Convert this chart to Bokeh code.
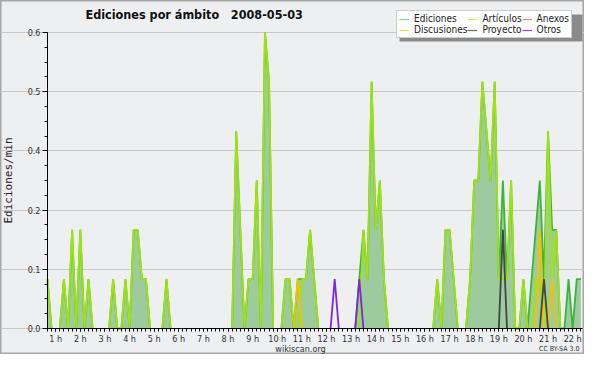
from bokeh.plotting import figure
from bokeh.models import FixedTicker, Label, Legend, LegendItem, Range1d, BoxAnnotation, ColumnDataSource
from bokeh.embed import file_html
from bokeh.resources import INLINE

# ---------------- data (edits per minute, 10-minute bins starting 0:40) ----------------
START_H = 40 / 60
STEP_H = 10 / 60
END_H = 22.4

ediciones = [
    0.1, 0, 0, 0, 0.1, 0, 0.2, 0, 0.2, 0, 0.1, 0,
    0, 0, 0, 0, 0.1, 0, 0, 0.1, 0, 0.2, 0.2, 0.1,
    0.1, 0, 0, 0, 0, 0.1, 0, 0, 0, 0, 0, 0,
    0, 0, 0, 0, 0, 0, 0, 0, 0, 0, 0.4, 0.2,
    0, 0.1, 0.1, 0.3, 0, 0.6, 0.5, 0, 0, 0, 0.1, 0.1,
    0, 0.1, 0.1, 0.1, 0.2, 0.1, 0, 0, 0, 0, 0, 0,
    0, 0, 0, 0, 0.1, 0.2, 0.1, 0.5, 0.2, 0.3, 0.1, 0,
    0, 0, 0, 0, 0, 0, 0, 0, 0, 0, 0, 0.1,
    0, 0.2, 0.2, 0.1, 0, 0, 0, 0.1, 0.3, 0.3, 0.5, 0.4,
    0.3, 0.5, 0.1, 0.3, 0.1, 0.3, 0, 0, 0.1, 0, 0.1, 0.2,
    0.3, 0.1, 0.4, 0.2, 0.2, 0, 0, 0.1, 0, 0.1, 0.1,
]
articulos = [
    0.1, 0, 0, 0, 0.1, 0, 0.2, 0, 0.2, 0, 0.1, 0,
    0, 0, 0, 0, 0.1, 0, 0, 0.1, 0, 0.2, 0.2, 0.1,
    0.1, 0, 0, 0, 0, 0.1, 0, 0, 0, 0, 0, 0,
    0, 0, 0, 0, 0, 0, 0, 0, 0, 0, 0.4, 0.2,
    0, 0.1, 0.1, 0.3, 0, 0.6, 0.5, 0, 0, 0, 0.1, 0.1,
    0, 0, 0.1, 0.1, 0.2, 0.1, 0, 0, 0, 0, 0, 0,
    0, 0, 0, 0, 0, 0.2, 0.1, 0.5, 0.2, 0.3, 0.1, 0,
    0, 0, 0, 0, 0, 0, 0, 0, 0, 0, 0, 0.1,
    0, 0.2, 0.2, 0.1, 0, 0, 0, 0.1, 0.3, 0.3, 0.5, 0.4,
    0.3, 0.5, 0.1, 0.1, 0.1, 0.3, 0, 0, 0.1, 0, 0, 0.1,
    0.1, 0, 0.4, 0.1, 0.2, 0, 0, 0, 0, 0, 0,
]
anexos = [0] * 131
discusiones = [
    0, 0, 0, 0, 0, 0, 0, 0, 0, 0, 0, 0,
    0, 0, 0, 0, 0, 0, 0, 0, 0, 0, 0, 0,
    0, 0, 0, 0, 0, 0, 0, 0, 0, 0, 0, 0,
    0, 0, 0, 0, 0, 0, 0, 0, 0, 0, 0, 0,
    0, 0, 0, 0, 0, 0, 0, 0, 0, 0, 0, 0,
    0, 0.1, 0, 0, 0, 0, 0, 0, 0, 0, 0, 0,
    0, 0, 0, 0, 0, 0, 0, 0, 0, 0, 0, 0,
    0, 0, 0, 0, 0, 0, 0, 0, 0, 0, 0, 0,
    0, 0, 0, 0, 0, 0, 0, 0, 0, 0, 0, 0,
    0, 0, 0, 0, 0, 0, 0, 0, 0, 0, 0, 0,
    0.2, 0, 0, 0.1, 0, 0, 0, 0, 0, 0, 0,
]
proyecto = [
    0, 0, 0, 0, 0, 0, 0, 0, 0, 0, 0, 0,
    0, 0, 0, 0, 0, 0, 0, 0, 0, 0, 0, 0,
    0, 0, 0, 0, 0, 0, 0, 0, 0, 0, 0, 0,
    0, 0, 0, 0, 0, 0, 0, 0, 0, 0, 0, 0,
    0, 0, 0, 0, 0, 0, 0, 0, 0, 0, 0, 0,
    0, 0, 0, 0, 0, 0, 0, 0, 0, 0, 0, 0,
    0, 0, 0, 0, 0, 0, 0, 0, 0, 0, 0, 0,
    0, 0, 0, 0, 0, 0, 0, 0, 0, 0, 0, 0,
    0, 0, 0, 0, 0, 0, 0, 0, 0, 0, 0, 0,
    0, 0, 0, 0.2, 0, 0, 0, 0, 0, 0, 0, 0,
    0, 0.1, 0, 0, 0, 0, 0, 0, 0, 0, 0,
]
otros = [
    0, 0, 0, 0, 0, 0, 0, 0, 0, 0, 0, 0,
    0, 0, 0, 0, 0, 0, 0, 0, 0, 0, 0, 0,
    0, 0, 0, 0, 0, 0, 0, 0, 0, 0, 0, 0,
    0, 0, 0, 0, 0, 0, 0, 0, 0, 0, 0, 0,
    0, 0, 0, 0, 0, 0, 0, 0, 0, 0, 0, 0,
    0, 0, 0, 0, 0, 0, 0, 0, 0, 0, 0.1, 0,
    0, 0, 0, 0, 0.1, 0, 0, 0, 0, 0, 0, 0,
    0, 0, 0, 0, 0, 0, 0, 0, 0, 0, 0, 0,
    0, 0, 0, 0, 0, 0, 0, 0, 0, 0, 0, 0,
    0, 0, 0, 0, 0, 0, 0, 0, 0, 0, 0, 0,
    0, 0, 0, 0, 0, 0, 0, 0, 0, 0, 0,
]

HOURS = list(range(1, 23))
HOUR_LABELS = {h: f"{h} h" for h in HOURS}
Y_TICKS = [0, 0.12, 0.24, 0.36, 0.48, 0.6]
Y_LABELS = ["0.0", "0.1", "0.2", "0.4", "0.5", "0.6"]
Y_MINOR = [0.03 * i for i in range(21)]
Y_MAX = 0.6

TITLE = "Ediciones por ámbito\u00a0\u00a0 2008-05-03"
SERIES = [
    ("Ediciones", ediciones, "#3cb43c"),
    ("Artículos", articulos, "#a2e20e"),
    ("Anexos", anexos, "#f07a3c"),
    ("Discusiones", discusiones, "#f2c200"),
    ("Proyecto", proyecto, "#454545"),
    ("Otros", otros, "#7a28e6"),
]
LEGEND_ORDER = ["Ediciones", "Artículos", "Anexos", "Discusiones", "Proyecto", "Otros"]
LEGEND_COLORS = {"Ediciones": "#86cf86", "Artículos": "#c6ee4a", "Anexos": "#f0845a",
                 "Discusiones": "#f6d24a", "Proyecto": "#6a6a6a", "Otros": "#9048ee"}

n = len(ediciones)
times = [START_H + i * STEP_H for i in range(n)]


def shown(vals):
    out = []
    for i, v in enumerate(vals):
        around = vals[max(i - 1, 0):i + 2]
        out.append(v if any(a > 0 for a in around) else float("nan"))
    return out


# ---------------- layout (pixels) ----------------
W, H = 584, 354
PLOT_L, PLOT_R = 47, 582      # data area left/right
PLOT_T, PLOT_B = 32, 328      # y of 0.6 and of 0.0
sx = (PLOT_R - PLOT_L) / (END_H - START_H)
sy = (PLOT_B - PLOT_T) / Y_MAX
x0 = START_H - PLOT_L / sx
x1 = x0 + W / sx
y1 = Y_MAX + PLOT_T / sy
y0 = -(H - PLOT_B) / sy

FONT = "'DejaVu Sans Condensed', 'DejaVu Sans'"
BG = "#eeeff1"

p = figure(width=W, height=H, x_range=Range1d(x0, x1), y_range=Range1d(y0, y1),
           output_backend="svg", toolbar_location=None,
           min_border=0, min_border_left=0, min_border_right=0, min_border_top=0, min_border_bottom=0)
p.background_fill_color = BG
p.border_fill_color = BG
p.outline_line_color = "#a6a6a6"
p.outline_line_width = 2

# filled total
p.varea(x=times, y1=[0] * n, y2=ediciones, fill_color="#9ecb9e", fill_alpha=1.0)

for name, vals, color in SERIES:
    src = ColumnDataSource(dict(x=times, y=shown(vals)))
    p.line("x", "y", source=src, line_color=color, line_width=1.8)

# legend samples (renderers with no visible points, used only for the legend)
legend_renderers = {nm: p.line(x=[START_H, START_H], y=[float("nan"), float("nan")],
                               line_color=LEGEND_COLORS[nm], line_width=1.2)
                    for nm in LEGEND_ORDER}

# axes drawn at fixed data positions
xa, ya = p.xaxis[0], p.yaxis[0]
xa.fixed_location = 0
ya.fixed_location = START_H
xa.bounds = (START_H, END_H)
ya.bounds = (0, Y_MAX)
xa.ticker = FixedTicker(ticks=HOURS, minor_ticks=times)
xa.major_label_overrides = HOUR_LABELS
ya.ticker = FixedTicker(ticks=Y_TICKS, minor_ticks=Y_MINOR)
ya.major_label_overrides = dict(zip(Y_TICKS, Y_LABELS))
for ax in (xa, ya):
    ax.axis_line_color = "black"
    ax.major_tick_line_color = "black"
    ax.minor_tick_line_color = "black"
    ax.major_tick_in = 0
    ax.minor_tick_in = 0
    ax.major_label_text_font = FONT
    ax.major_label_text_font_size = "9px"
    ax.major_label_text_color = "#333333"
xa.major_tick_out = 3
xa.minor_tick_out = 3
xa.major_label_standoff = 2
ya.major_tick_out = 5
ya.minor_tick_out = 3
ya.major_label_standoff = 2
ya.axis_label = "Ediciones/min"
ya.axis_label_text_font = "DejaVu Sans Mono"
ya.axis_label_text_font_size = "11px"
ya.axis_label_text_font_style = "normal"
ya.axis_label_text_color = "#222222"
ya.axis_label_standoff = 10
p.xgrid.visible = False
p.ygrid.grid_line_color = "#c8c8c8"
p.ygrid.bounds = (START_H, END_H)

# texts (screen units, measured from the bottom-left of the canvas)
p.add_layout(Label(x=85, y=H - 14, x_units="screen", y_units="screen", text=TITLE,
                   text_font=FONT, text_font_size="12.5px", text_font_style="bold",
                   text_baseline="alphabetic", text_color="#111111"))
p.add_layout(Label(x=300, y=H - 348, x_units="screen", y_units="screen", text="wikiscan.org",
                   text_font=FONT, text_font_size="9px", text_align="center",
                   text_baseline="alphabetic", text_color="#333333"))
p.add_layout(Label(x=579, y=H - 348, x_units="screen", y_units="screen", text="CC BY-SA 3.0",
                   text_font=FONT, text_font_size="7px", text_align="right",
                   text_baseline="alphabetic", text_color="#333333"))

# legend with shadow
LEG_L, LEG_B, LEG_W, LEG_H = 396, H - 38, 183, 27
p.add_layout(BoxAnnotation(left=LEG_L + 3, right=LEG_L + LEG_W + 3,
                           bottom=LEG_B - 3, top=LEG_B + LEG_H - 3,
                           left_units="screen", right_units="screen",
                           bottom_units="screen", top_units="screen",
                           fill_color="#8a8a8a", fill_alpha=1, line_color=None))
items = [LegendItem(label=nm, renderers=[legend_renderers[nm]]) for nm in LEGEND_ORDER]
legend = Legend(items=items, location=(LEG_L, LEG_B), orientation="horizontal", ncols=3,
                label_text_font=FONT, label_text_font_size="10px", label_text_color="#222222",
                label_height=10, glyph_height=10, glyph_width=10, label_standoff=5,
                spacing=0, padding=2, margin=0,
                border_line_color="#999999", background_fill_color="white", background_fill_alpha=1)
p.add_layout(legend, "center")

open("out.html", "w").write(file_html(p, INLINE))
